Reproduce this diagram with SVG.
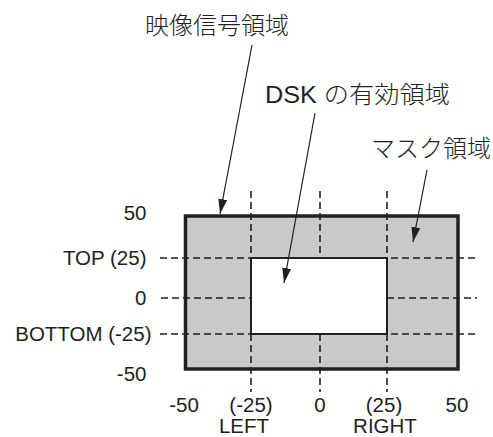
<svg xmlns="http://www.w3.org/2000/svg" width="493" height="437" viewBox="0 0 493 437">
<style>
.lbl{font-family:"Liberation Sans","Noto Sans CJK JP",sans-serif;font-size:20.5px;fill:#231f20}
.jp{font-family:"Liberation Sans","Noto Sans CJK JP",sans-serif;font-size:24px;font-weight:300;fill:#231f20}
.dash{stroke:#231f20;stroke-width:1.6;stroke-dasharray:7 4;fill:none}
.arr{stroke:#231f20;stroke-width:1.2;fill:none;marker-end:url(#ah)}
</style>
<defs>
<marker id="ah" markerUnits="userSpaceOnUse" markerWidth="16" markerHeight="10" refX="15" refY="4.5" orient="auto" viewBox="0 0 16 9">
<path d="M0,0 L15,4.5 L0,9 Z" fill="#231f20"/>
</marker>
</defs>
<rect width="493" height="437" fill="#fff"/>
<g id="video-area">
<rect x="185.5" y="216" width="272.5" height="153" fill="#c8c9cb" stroke="none"/>
</g>
<g id="grid">
<line class="dash" x1="160" y1="258" x2="477" y2="258"/>
<line class="dash" x1="161" y1="298" x2="251" y2="298"/>
<line class="dash" x1="387" y1="298" x2="477" y2="298"/>
<line class="dash" x1="160" y1="334" x2="477" y2="334"/>
<line class="dash" x1="251" y1="191" x2="251" y2="392"/>
<line class="dash" x1="320" y1="191" x2="320" y2="258"/>
<line class="dash" x1="320" y1="334" x2="320" y2="392"/>
<line class="dash" x1="387" y1="191" x2="387" y2="392"/>
</g>
<g id="video-border">
<rect x="185.5" y="216" width="272.5" height="153" fill="none" stroke="#231f20" stroke-width="3.5"/>
</g>
<g id="dsk-area">
<rect x="251" y="258" width="136" height="76" fill="#fff" stroke="#231f20" stroke-width="2"/>
</g>
<g id="connectors">
<line class="arr" x1="252" y1="45" x2="220" y2="214"/>
<line class="arr" x1="315" y1="113" x2="284" y2="283"/>
<line class="arr" x1="427" y1="170" x2="413" y2="242"/>
</g>
<g id="labels-top">
<text class="jp" x="145" y="34">映像信号領域</text>
<text class="jp" x="265" y="103" textLength="185" lengthAdjust="spacingAndGlyphs">DSK の有効領域</text>
<text class="jp" x="371" y="157">マスク領域</text>
</g>
<g id="labels-left" text-anchor="end">
<text class="lbl" x="146.5" y="219.5">50</text>
<text class="lbl" x="146.5" y="265">TOP (25)</text>
<text class="lbl" x="146.5" y="305">0</text>
<text class="lbl" x="151.5" y="341">BOTTOM (-25)</text>
<text class="lbl" x="146.5" y="381">-50</text>
</g>
<g id="labels-bottom" text-anchor="middle">
<text class="lbl" x="184" y="411.5">-50</text>
<text class="lbl" x="251" y="411.5">(-25)</text>
<text class="lbl" x="320" y="411.5">0</text>
<text class="lbl" x="384" y="411.5">(25)</text>
<text class="lbl" x="457" y="411.5">50</text>
<text class="lbl" x="244" y="433">LEFT</text>
<text class="lbl" x="385" y="433">RIGHT</text>
</g>
</svg>
